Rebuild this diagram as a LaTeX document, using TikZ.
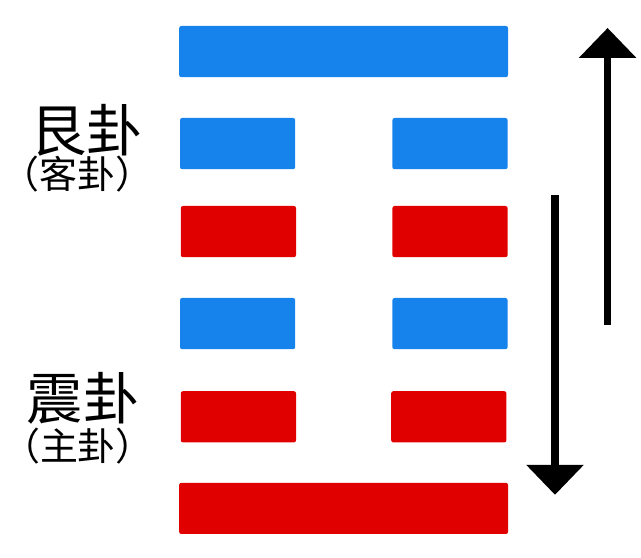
\documentclass[tikz,border=0pt]{standalone}
\usepackage{fontspec}
\newfontfamily\cjk{Noto Sans CJK SC}
\usetikzlibrary{arrows.meta}

\definecolor{yaoblue}{RGB}{22,130,235}
\definecolor{yaored}{RGB}{225,0,0}

\tikzset{
    yang/.style={rectangle, rounded corners=1.5pt, inner sep=0pt, minimum width=8.22cm, minimum height=1.28cm},
    yin/.style={rectangle, rounded corners=1.5pt, inner sep=0pt, minimum width=2.88cm, minimum height=1.28cm},
    guaname/.style={inner sep=0pt, font=\cjk\fontsize{40}{42}\selectfont},
    guanote/.style={inner sep=0pt, font=\cjk\fontsize{27}{29}\selectfont},
    flow/.style={line width=5pt, -{Triangle[length=0.75cm, width=1.4cm]}}
}

\begin{document}
\begin{tikzpicture}
    \useasboundingbox (0, 0) rectangle (16.025, 13.95);

    % upper trigram
    \node[yang, fill=yaoblue] at (8.59, 12.66) (yao6) {};
    \node[yin, fill=yaoblue] at (5.94, 10.36) (yao5L) {};
    \node[yin, fill=yaoblue] at (11.25, 10.36) (yao5R) {};
    \node[yin, fill=yaored] at (5.96, 8.16) (yao4L) {};
    \node[yin, fill=yaored] at (11.25, 8.16) (yao4R) {};

    % lower trigram
    \node[yin, fill=yaoblue] at (5.94, 5.86) (yao3L) {};
    \node[yin, fill=yaoblue] at (11.25, 5.86) (yao3R) {};
    \node[yin, fill=yaored] at (5.96, 3.53) (yao2L) {};
    \node[yin, fill=yaored] at (11.22, 3.53) (yao2R) {};
    \node[yang, fill=yaored] at (8.59, 1.24) (yao1) {};

    \node[guaname] at (2.16, 10.7) (gen) {艮卦};
    \node[guanote] at (1.94, 9.6) (genNote) {（客卦）};
    \node[guaname] at (2.08, 3.99) (zhen) {震卦};
    \node[guanote] at (1.95, 2.8) (zhenNote) {（主卦）};

    \coordinate (upS) at (15.19, 5.83);
    \coordinate (upE) at (15.19, 13.25);
    \coordinate (downS) at (13.875, 9.07);
    \coordinate (downE) at (13.875, 1.58);

    \draw[flow] (upS) -- (upE);
    \draw[flow] (downS) -- (downE);
\end{tikzpicture}
\end{document}
